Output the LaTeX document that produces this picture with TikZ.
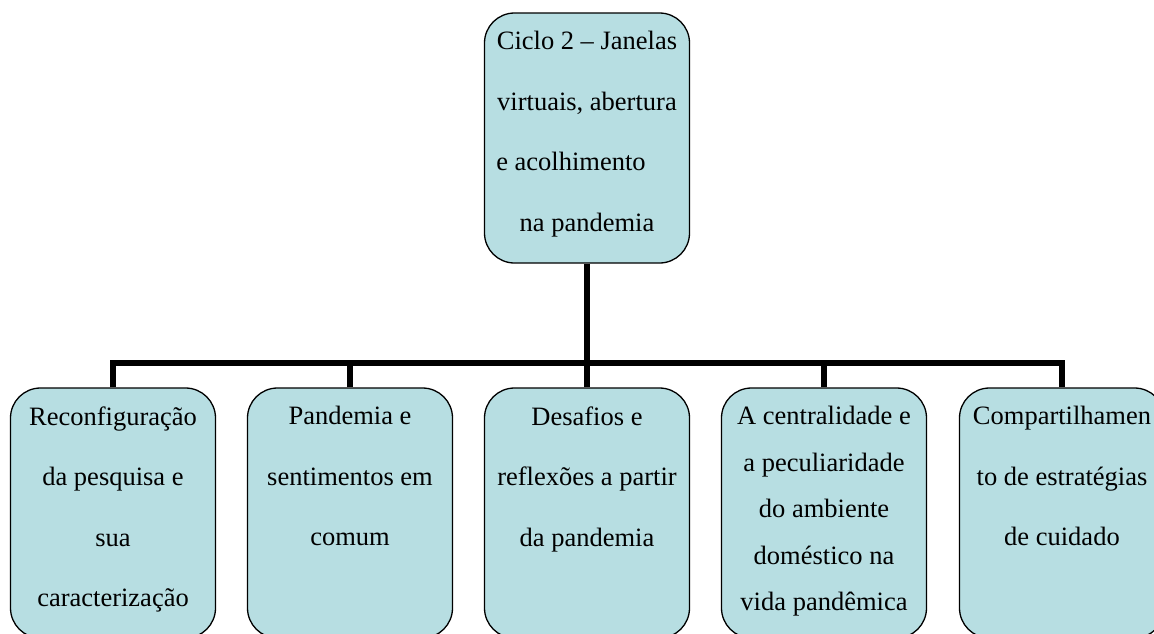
\documentclass[tikz,border=0pt]{standalone}
\usepackage{fontspec}
\setmainfont{Liberation Serif}
\usepackage{xcolor}
\usetikzlibrary{positioning,calc}
\definecolor{temafill}{RGB}{183,222,226}

\begin{document}
\begin{tikzpicture}[x=1pt,y=-1pt,
    tema/.style={draw=black, line width=1.3pt, fill=temafill, rounded corners=30pt,
        minimum width=205pt, minimum height=250pt, inner sep=0pt},
    rotulo/.style={anchor=north, inner sep=0pt, align=center, font=\fontsize{26.5}{60.5}\selectfont},
    ramo/.style={line width=5.5pt}]
% Tree: one cycle with five themes below it
\useasboundingbox (0,0) rectangle (1154,633);
\clip (0,0) rectangle (1154,633);

% Connectors meet here
\coordinate (barra) at (587,363);
\path (587,138) coordinate (ciclopos);

% Top box
\node[tema] (ciclo) at (ciclopos) {};
\node[rotulo, below=19pt of ciclo.north] (ciclotxt)
    {Ciclo 2 -- Janelas\\ virtuais, abertura\\ e acolhimento\hspace*{32pt}\rule{0pt}{0pt}\\ na pandemia};

% Bottom boxes
\foreach \i/\x in {1/113, 2/350, 3/587, 4/824, 5/1062} {
    \node[tema] (c\i) at (\x,513) {};
}
\draw[ramo] (ciclo.south) -- (ciclo.south |- barra);
\draw[ramo] (c1.north) -- (c1.north |- barra) -- (c5.north |- barra) -- (c5.north);
\foreach \i in {2,3,4} {
    \draw[ramo] (c\i.north) -- (c\i.north |- barra);
}

% Theme texts
\node[rotulo, below=19pt of c1.north] (t1) {Reconfiguração\\ da pesquisa e\\ sua\\ caracterização};
\node[rotulo, below=19pt of c2.north] (t2) {Pandemia e\\ sentimentos em\\ comum};
\node[rotulo, below=19pt of c3.north] (t3) {Desafios e\\ reflexões a partir\\ da pandemia};
\node[rotulo, below=19pt of c4.north, font=\fontsize{26.5}{46.5}\selectfont] (t4)
    {A centralidade e\\ a peculiaridade\\ do ambiente\\ doméstico na\\ vida pandêmica};
\node[rotulo, below=19pt of c5.north] (t5) {Compartilhamen\\ to de estratégias\\ de cuidado};
\end{tikzpicture}
\end{document}
